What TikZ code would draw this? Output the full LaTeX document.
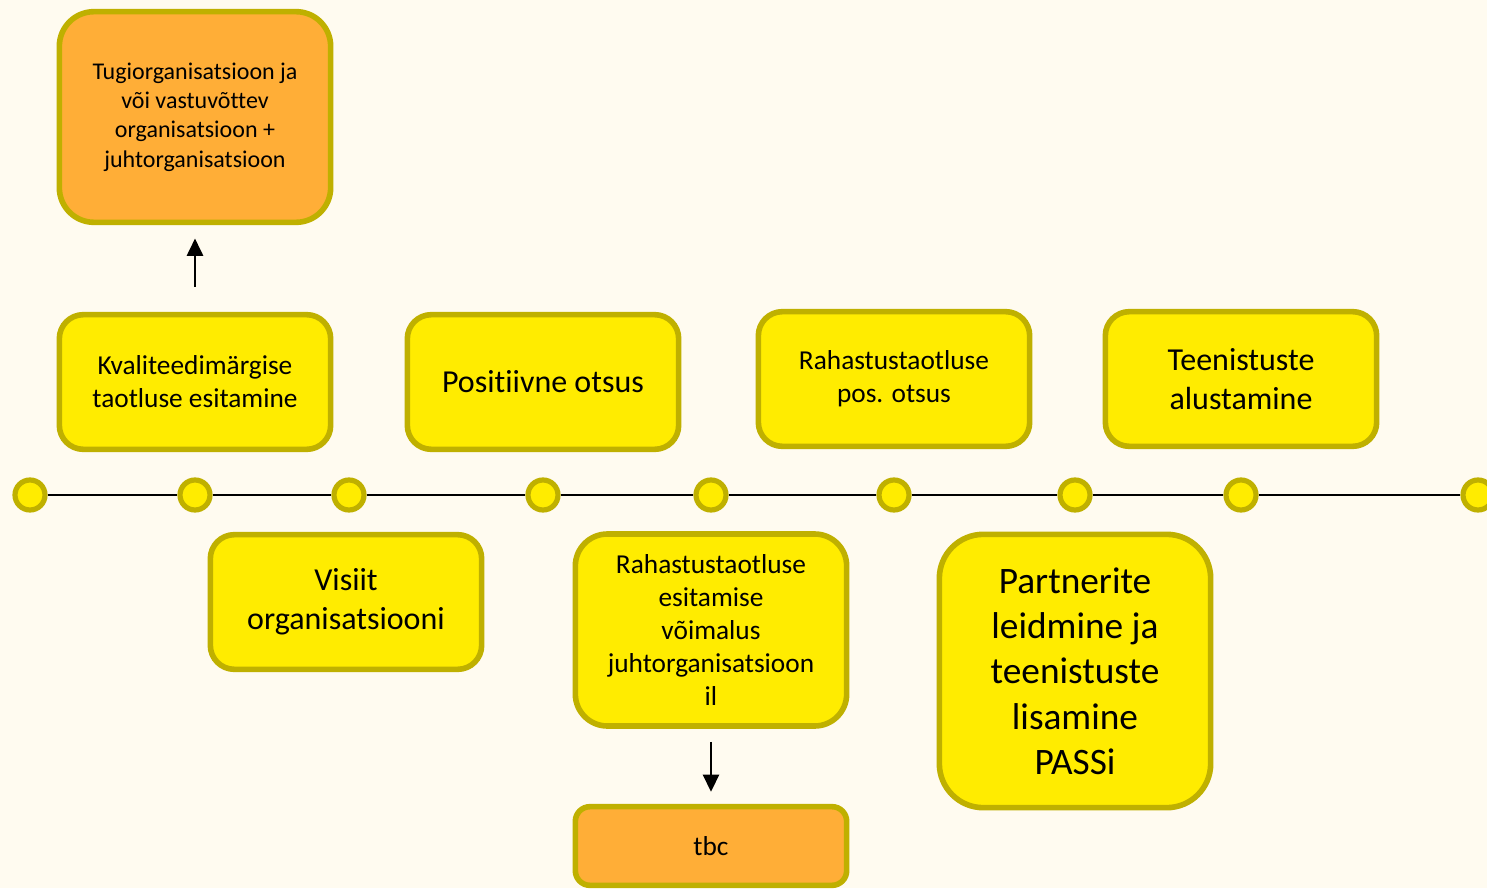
\documentclass[tikz,border=0pt]{standalone}
\usepackage{fontspec}
\setmainfont[Ligatures=NoCommon]{Carlito}
\usepackage{tikz}
\usetikzlibrary{positioning,arrows.meta}

\definecolor{bgcream}{HTML}{FFFBF0}
\definecolor{boxyellow}{HTML}{FFEC00}
\definecolor{boxorange}{HTML}{FFAE37}
\definecolor{rimolive}{HTML}{BFB000}

\newcommand{\txtS}{\fontsize{18pt}{22pt}\selectfont}
\newcommand{\txtM}{\fontsize{20.5pt}{24.8pt}\selectfont}
\newcommand{\txtL}{\fontsize{24pt}{29pt}\selectfont}
\newcommand{\txtXL}{\fontsize{28pt}{34pt}\selectfont}

\begin{document}
\begin{tikzpicture}[x=0.75pt,y=-0.75pt,
    yellowbox/.style={draw=rimolive, line width=4.2pt, fill=boxyellow, rounded corners=18pt,
        align=center, inner sep=0pt, minimum width=203.5pt, minimum height=101pt},
    orangebox/.style={yellowbox, fill=boxorange},
    dot/.style={circle, draw=rimolive, line width=3.9pt, fill=boxyellow, minimum size=22.5pt, inner sep=0pt},
    arr/.style={-{Triangle[length=13pt,width=12pt]}, line width=2pt}]
    \fill[bgcream] (0,0) rectangle (1487,888);
    \useasboundingbox (0,0) rectangle (1487,888);
    %timeline
    \node[dot] (d1) at (30,495) {};
    \node[dot] (d2) at (195,495) {};
    \node[dot] (d3) at (349,495) {};
    \node[dot] (d4) at (543,495) {};
    \node[dot] (d5) at (711,495) {};
    \node[dot] (d6) at (894,495) {};
    \node[dot] (d7) at (1075,495) {};
    \node[dot] (d8) at (1241,495) {};
    \node[dot] (d9) at (1478,495) {};
    \foreach \a/\b in {d1/d2,d2/d3,d3/d4,d4/d5,d5/d6,d6/d7,d7/d8,d8/d9}
        \draw[line width=1.5pt] (\a) -- (\b);
    %boxes above
    \node[orangebox, minimum height=158pt, rounded corners=26pt, font=\txtS] (tugi) at (195,117)
        {Tugiorganisatsioon ja\\või vastuvõttev\\organisatsioon +\\juhtorganisatsioon};
    \node[yellowbox, font=\txtM] (kval) at (195,382) {Kvaliteedimärgise\\taotluse esitamine};
    \node[yellowbox, font=\txtL] (pos) at (543,382) {Positiivne otsus};
    \node[yellowbox, font=\txtM] (rpos) at (894,379) {Rahastustaotluse\\pos. otsus};
    \node[yellowbox, font=\txtL] (teen) at (1241,379) {Teenistuste\\alustamine};
    %boxes below
    \node[yellowbox, font=\txtL] (visiit) at (346,602) {Visiit\\organisatsiooni};
    \node[yellowbox, minimum height=144pt, rounded corners=24pt, font=\txtM] (resit) at (711,630)
        {Rahastustaotluse\\esitamise\\võimalus\\juhtorganisatsioon\\il};
    \node[orangebox, minimum height=59pt, rounded corners=11pt, font=\txtM] (tbc) at (711,846) {tbc};
    \node[yellowbox, minimum height=205pt, rounded corners=33pt, font=\txtXL] (partn) at (1075,671)
        {Partnerite\\leidmine ja\\teenistuste\\lisamine\\PASSi};
    %arrows
    \draw[arr, shorten <=18.75pt, shorten >=10pt] (kval) -- (tugi);
    \draw[arr, shorten <=9.75pt, shorten >=9pt] (resit) -- (tbc);
\end{tikzpicture}
\end{document}
